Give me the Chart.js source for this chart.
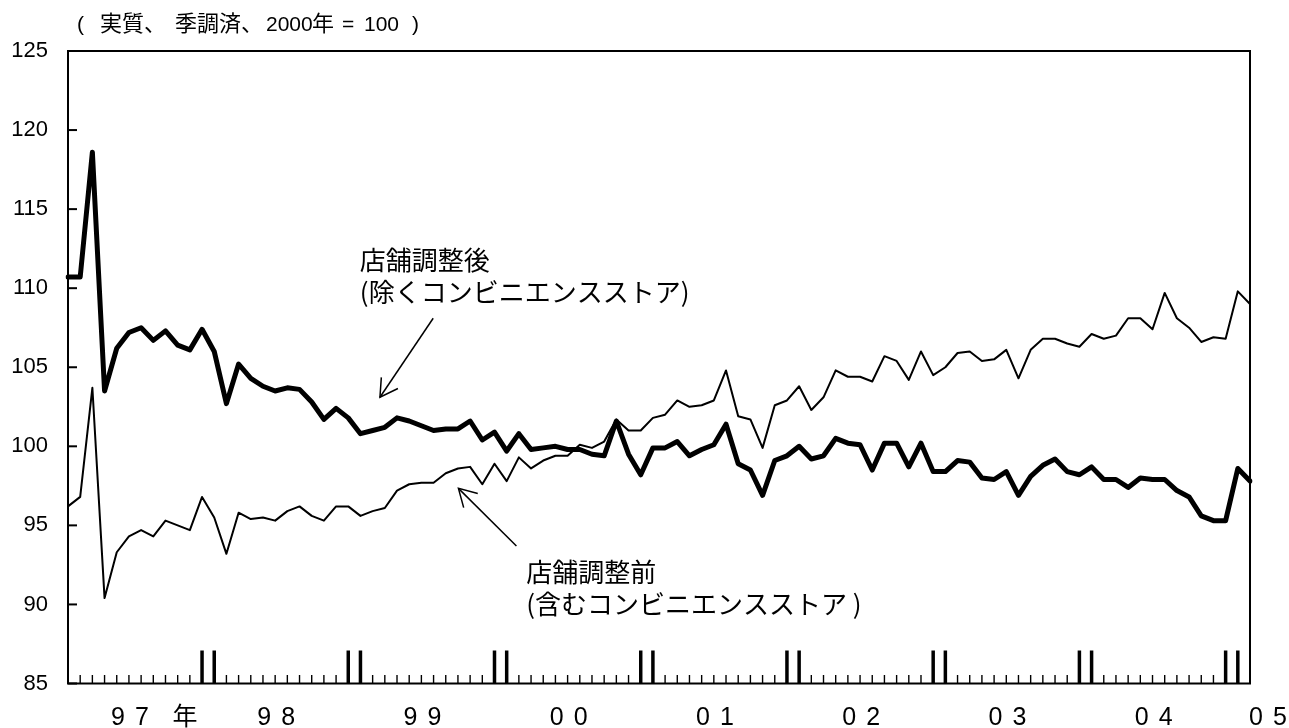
<!DOCTYPE html>
<html><head><meta charset="utf-8">
<script src="https://cdn.jsdelivr.net/npm/chart.js@4.4.1/dist/chart.umd.min.js"></script>
<style>html,body{margin:0;padding:0;background:#fff;}canvas{display:block;}</style>
</head><body>
<canvas id="c" width="1289" height="728"></canvas>
<script>
// ---- data ----
const years = [1997, 1998, 1999, 2000, 2001, 2002, 2003, 2004, 2005];
const yearTickLabels = ['97', '98', '99', '00', '01', '02', '03', '04', '05'];
const lastMonth2005 = 2; // data runs Jan 1997 .. Feb 2005

// 店舗調整後（除くコンビニエンスストア） – thick line
const afterAdjustment = [
  110.7, 110.7, 118.6, 103.5, 106.2, 107.2, 107.5, 106.7, 107.3, 106.4, 106.1, 107.4,
  106.0, 102.7, 105.2, 104.3, 103.8, 103.5, 103.7, 103.6, 102.8, 101.7, 102.4, 101.8,
  100.8, 101.0, 101.2, 101.8, 101.6, 101.3, 101.0, 101.1, 101.1, 101.6, 100.4, 100.9,
  99.7, 100.8, 99.8, 99.9, 100.0, 99.8, 99.8, 99.5, 99.4, 101.6, 99.5, 98.2,
  99.9, 99.9, 100.3, 99.4, 99.8, 100.1, 101.4, 98.9, 98.5, 96.9, 99.1, 99.4,
  100.0, 99.2, 99.4, 100.5, 100.2, 100.1, 98.5, 100.2, 100.2, 98.7, 100.2, 98.4,
  98.4, 99.1, 99.0, 98.0, 97.9, 98.4, 96.9, 98.1, 98.8, 99.2, 98.4, 98.2,
  98.7, 97.9, 97.9, 97.4, 98.0, 97.9, 97.9, 97.2, 96.8, 95.6, 95.3, 95.3,
  98.6, 97.8
];
// 店舗調整前（含むコンビニエンスストア） – thin line
const beforeAdjustment = [
  96.2, 96.8, 103.7, 90.4, 93.3, 94.3, 94.7, 94.3, 95.3, 95.0, 94.7, 96.8,
  95.5, 93.2, 95.8, 95.4, 95.5, 95.3, 95.9, 96.2, 95.6, 95.3, 96.2, 96.2,
  95.6, 95.9, 96.1, 97.2, 97.6, 97.7, 97.7, 98.3, 98.6, 98.7, 97.6, 98.9,
  97.8, 99.3, 98.6, 99.1, 99.4, 99.4, 100.1, 99.9, 100.3, 101.7, 101.0, 101.0,
  101.8, 102.0, 102.9, 102.5, 102.6, 102.9, 104.8, 101.9, 101.7, 99.9, 102.6, 102.9,
  103.8, 102.3, 103.1, 104.8, 104.4, 104.4, 104.1, 105.7, 105.4, 104.2, 106.0, 104.5,
  105.0, 105.9, 106.0, 105.4, 105.5, 106.1, 104.3, 106.1, 106.8, 106.8, 106.5, 106.3,
  107.1, 106.8, 107.0, 108.1, 108.1, 107.4, 109.7, 108.1, 107.5, 106.6, 106.9, 106.8,
  109.8, 109.0
];
const yTickValues = [85, 90, 95, 100, 105, 110, 115, 120, 125];

// ---- categories (months) built from the year list ----
const months = [];
years.forEach((y) => {
  const n = (y === 2005) ? lastMonth2005 : 12;
  for (let m = 1; m <= n; m++) months.push(y + '/' + m);
});

const FONT_LATIN = '"Liberation Sans", Arial, "Noto Sans CJK JP", sans-serif';
const FONT_CJK = '"Noto Sans CJK JP", "Liberation Sans", sans-serif';

// annotation anchors in data coordinates (index, value)
const annotations = [
  { lines: ['店舗調整後', '(除くコンビニエンスストア)'], at: [23.95, 111.75], tip: [25.6, 103.1], tail: [29.97, 108.1] },
  { lines: ['店舗調整前', '(含むコンビニエンスストア )'], at: [37.6, 92.05], tip: [32.04, 97.34], tail: [36.8, 93.7] }
];

const decor = {
  id: 'decor',
  afterDraw(chart) {
    const { ctx, chartArea: a, scales: { x, y } } = chart;
    ctx.save();
    ctx.strokeStyle = '#000';
    ctx.fillStyle = '#000';
    // frame
    ctx.lineWidth = 2;
    ctx.strokeRect(a.left, a.top, a.right - a.left, a.bottom - a.top);
    // y ticks (inward)
    yTickValues.forEach((v) => {
      const py = y.getPixelForValue(v);
      ctx.beginPath(); ctx.moveTo(a.left, py); ctx.lineTo(a.left + 9, py); ctx.stroke();
    });
    // x ticks
    for (let i = 1; i < months.length - 1; i++) {
      const m = +months[i].split('/')[1];
      const px = x.getPixelForValue(i);
      const tall = (m === 12 || m === 1);
      ctx.lineWidth = tall ? 3.5 : 1.4;
      ctx.beginPath(); ctx.moveTo(px, a.bottom); ctx.lineTo(px, a.bottom - (tall ? 33 : 8.5)); ctx.stroke();
    }
    // year labels
    ctx.textBaseline = 'alphabetic';
    ctx.textAlign = 'center';
    yearTickLabels.forEach((lab, k) => {
      let cx;
      if (k === yearTickLabels.length - 1) {
        cx = x.getPixelForValue(months.length - 1) + 18;
      } else {
        cx = (x.getPixelForValue(12 * k + 5) + x.getPixelForValue(12 * k + 6)) / 2 - 5;
      }
      ctx.font = '25px ' + FONT_LATIN;
      ctx.fillText(lab[0], cx - 12, 725);
      ctx.fillText(lab[1], cx + 12, 725);
      if (k === 0) {
        ctx.font = '25px ' + FONT_CJK;
        ctx.fillText('年', cx + 55, 725);
      }
    });
    // title
    ctx.textAlign = 'left';
    const tparts = [['(', 77], ['実質、', 100], ['季調済、', 175], ['2000', 266], ['年', 312], ['=', 342], ['100', 364], [')', 412]];
    tparts.forEach(([t, px]) => {
      ctx.font = (/[0-9=()]/.test(t[0]) ? '21px ' + FONT_LATIN : '22px ' + FONT_CJK);
      ctx.fillText(t, px, 31);
    });
    // annotations
    annotations.forEach((an) => {
      const tx = x.getPixelForValue(an.at[0]);
      const ty = y.getPixelForValue(an.at[1]);
      ctx.font = '26px ' + FONT_CJK;
      ctx.textBaseline = 'middle';
      ctx.fillText(an.lines[0], tx, ty);
      ctx.fillText(an.lines[1], tx, ty + 32);
      const px1 = x.getPixelForValue(an.tip[0]), py1 = y.getPixelForValue(an.tip[1]);
      const px2 = x.getPixelForValue(an.tail[0]), py2 = y.getPixelForValue(an.tail[1]);
      ctx.lineWidth = 1.5;
      ctx.beginPath(); ctx.moveTo(px2, py2); ctx.lineTo(px1, py1); ctx.stroke();
      const ang = Math.atan2(py2 - py1, px2 - px1);
      const L = 20, sp = Math.PI / 6;
      ctx.beginPath();
      ctx.moveTo(px1 + L * Math.cos(ang - sp), py1 + L * Math.sin(ang - sp));
      ctx.lineTo(px1, py1);
      ctx.lineTo(px1 + L * Math.cos(ang + sp), py1 + L * Math.sin(ang + sp));
      ctx.stroke();
    });
    ctx.restore();
  }
};

new Chart(document.getElementById('c'), {
  type: 'line',
  data: {
    labels: months,
    datasets: [
      { label: '店舗調整前', data: beforeAdjustment, borderColor: '#000', borderWidth: 2, pointRadius: 0, tension: 0, fill: false, borderJoinStyle: 'round' },
      { label: '店舗調整後', data: afterAdjustment, borderColor: '#000', borderWidth: 5, pointRadius: 0, tension: 0, fill: false, borderJoinStyle: 'round', borderCapStyle: 'round' }
    ]
  },
  options: {
    responsive: false,
    animation: false,
    devicePixelRatio: 1,
    layout: { padding: { left: 0, right: 39, top: 51, bottom: 0 } },
    plugins: { legend: { display: false }, tooltip: { enabled: false } },
    scales: {
      x: {
        type: 'category', offset: false,
        ticks: { display: false },
        grid: { display: false, drawTicks: false },
        border: { display: false },
        afterFit(s) { s.height = 44.5; }
      },
      y: {
        min: 85, max: 125,
        ticks: { stepSize: 5, color: '#000', padding: 20, font: { family: FONT_LATIN, size: 22 } },
        grid: { display: false, drawTicks: false },
        border: { display: false },
        afterFit(s) { s.width = 68; }
      }
    }
  },
  plugins: [decor]
});
</script>
</body></html>
